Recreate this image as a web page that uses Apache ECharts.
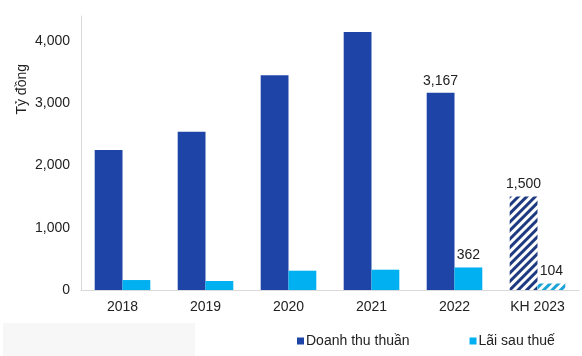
<!DOCTYPE html>
<html><head><meta charset="utf-8">
<script src="https://cdn.jsdelivr.net/npm/echarts@6/dist/echarts.min.js"></script>
<style>html,body{margin:0;padding:0;background:#fff}#c{width:582px;height:356px}</style>
</head><body><div id="c"></div>
<script>
var categories = ['2018','2019','2020','2021','2022','KH 2023'];
var revenue = [2250, 2540, 3450, 4145, 3167, 1500];
var profit = [160, 145, 310, 326, 362, 104];
var labeledIdx = [4, 5];
var planIdx = 5;
var yTicks = [0, 1000, 2000, 3000, 4000];

var DARK = '#1f44a8', LIGHT = '#00b0f0';
var font = '"Liberation Sans", Arial, sans-serif';
function mk(vals, color, stripe) {
  return vals.map(function (v, i) {
    var d = { value: v };
    if (labeledIdx.indexOf(i) >= 0) {
      d.label = { show: true, position: 'top', distance: 5, color: '#222', fontSize: 14, fontFamily: font,
        formatter: function (p) { return p.value.toLocaleString('en-US'); } };
    }
    if (i === planIdx) {
      d.itemStyle = { color: '#fff', decal: { symbol: 'rect', color: stripe, dashArrayX: [1, 0], dashArrayY: [3, 3], rotation: -Math.PI / 4, symbolSize: 1 } };
    }
    return d;
  });
}
var chart = echarts.init(document.getElementById('c'), null, { renderer: 'canvas' });
chart.setOption({
  animation: false,
  grid: { left: 81, right: 3, top: 16, bottom: 66 },
  xAxis: { type: 'category', data: categories,
    axisLine: { lineStyle: { color: '#d9d9d9' } }, axisTick: { show: false },
    axisLabel: { color: '#222', fontSize: 14, fontFamily: font, margin: 10 } },
  yAxis: { type: 'value', min: 0, max: 4400, interval: 1000,
    axisLine: { show: true, lineStyle: { color: '#d9d9d9' } }, axisTick: { show: false }, splitLine: { show: false },
    axisLabel: { color: '#222', fontSize: 14, fontFamily: font, margin: 11, showMaxLabel: false,
      formatter: function (v) { return yTicks.indexOf(v) >= 0 ? v.toLocaleString('en-US') : ''; } } },
  legend: { top: 329, left: 292, itemWidth: 7, itemHeight: 7, itemGap: 60, icon: 'rect',
    textStyle: { color: '#222', fontSize: 14, fontFamily: font, padding: [0, 0, 0, -3] },
    data: ['Doanh thu thuần', 'Lãi sau thuế'] },
  graphic: [
    { type: 'rect', left: 3, top: 323, shape: { width: 192, height: 33 }, style: { fill: '#f7f7f7' } },
    { type: 'text', left: 15, top: 64, rotation: Math.PI / 2, style: { text: 'Tỷ đồng', fill: '#222', font: '14px ' + font } }
  ],
  series: [
    { name: 'Doanh thu thuần', type: 'bar', barGap: '0%', barCategoryGap: '33%', itemStyle: { color: DARK }, data: mk(revenue, DARK, '#1f3a80') },
    { name: 'Lãi sau thuế', type: 'bar', itemStyle: { color: LIGHT }, data: mk(profit, LIGHT, '#1aa3d6') }
  ]
});
</script></body></html>
